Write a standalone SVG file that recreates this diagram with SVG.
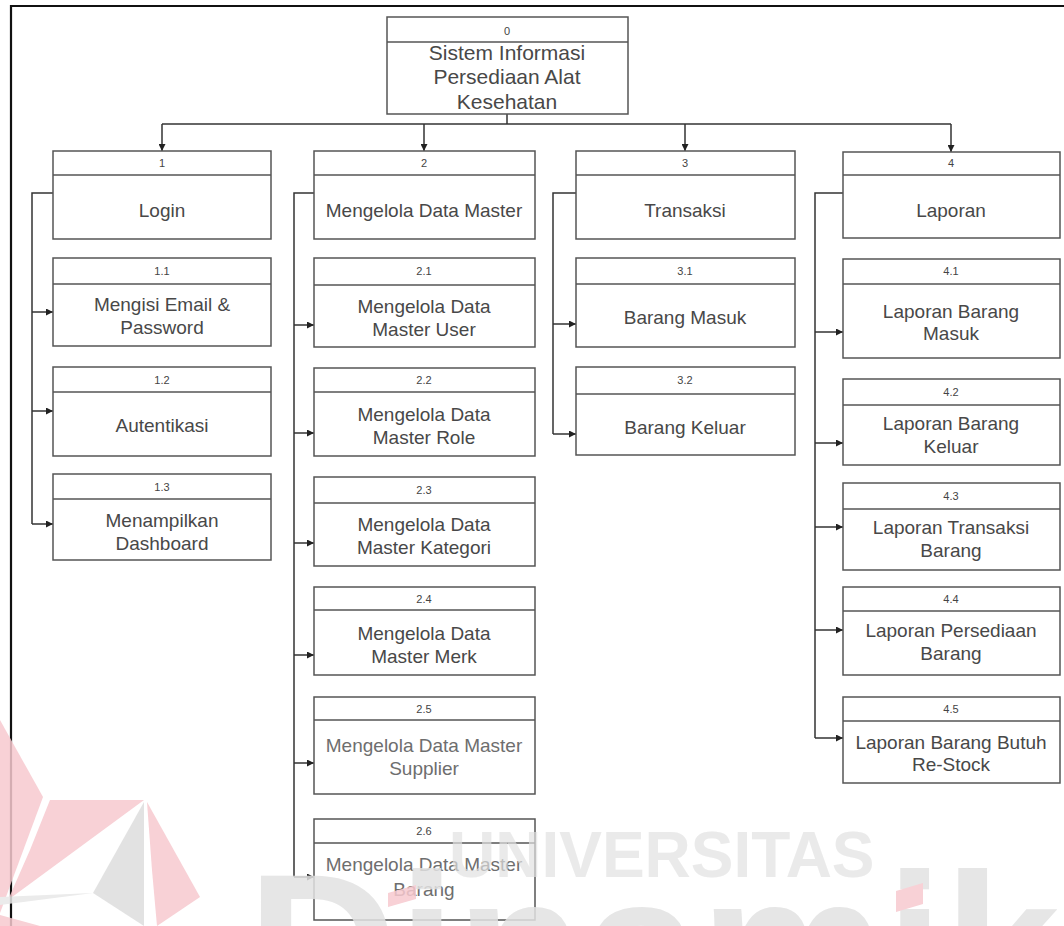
<svg xmlns="http://www.w3.org/2000/svg" width="1064" height="926" viewBox="0 0 1064 926">
  <style>
    .box { fill: #ffffff; stroke: #555555; stroke-width: 1.5; }
    .div { stroke: #555555; stroke-width: 1.5; }
    .num { font-family: "Liberation Sans", Arial, sans-serif; font-size: 11px; fill: #444444; text-anchor: middle; }
    .lbl { font-family: "Liberation Sans", Arial, sans-serif; font-size: 19px; fill: #484848; text-anchor: middle; }
    .lbl.light { fill: #6e6e6e; }
    .root { font-family: "Liberation Sans", Arial, sans-serif; font-size: 21px; fill: #484848; text-anchor: middle; }
    .wire { fill: none; stroke: #333333; stroke-width: 1.5; }
    .wm { font-family: "Liberation Sans", Arial, sans-serif; font-weight: bold; fill: #e2e2e2; }
    .pink { fill: #f7c9cf; }
  </style>
  <defs>
    <marker id="arr" viewBox="0 0 10 10" refX="10" refY="5" markerWidth="7" markerHeight="7" markerUnits="userSpaceOnUse" orient="auto">
      <path d="M0,0 L10,5 L0,10 z" fill="#222222"/>
    </marker>
  </defs>

  <rect width="1064" height="926" fill="#ffffff"/>

  <!-- page frame -->
  <path d="M11,926 V6 H1064" fill="none" stroke="#111111" stroke-width="2.2"/>

  <!-- connectors -->
  <g id="connectors">
    <path class="wire" d="M507,114 V124"/>
    <path class="wire" d="M162,124 H951"/>
    <path class="wire" d="M162,124 V151" marker-end="url(#arr)"/>
    <path class="wire" d="M424,124 V151" marker-end="url(#arr)"/>
    <path class="wire" d="M685,124 V151" marker-end="url(#arr)"/>
    <path class="wire" d="M951,124 V152" marker-end="url(#arr)"/>

    <!-- column 1 -->
    <path class="wire" d="M53,193 H32 V524"/>
    <path class="wire" d="M32,312 H53" marker-end="url(#arr)"/>
    <path class="wire" d="M32,411 H53" marker-end="url(#arr)"/>
    <path class="wire" d="M32,524 H53" marker-end="url(#arr)"/>

    <!-- column 2 -->
    <path class="wire" d="M314,193 H294 V877"/>
    <path class="wire" d="M294,325 H314" marker-end="url(#arr)"/>
    <path class="wire" d="M294,433 H314" marker-end="url(#arr)"/>
    <path class="wire" d="M294,543 H314" marker-end="url(#arr)"/>
    <path class="wire" d="M294,655 H314" marker-end="url(#arr)"/>
    <path class="wire" d="M294,763 H314" marker-end="url(#arr)"/>
    <path class="wire" d="M294,877 H314" marker-end="url(#arr)"/>

    <!-- column 3 -->
    <path class="wire" d="M576,193 H553 V434"/>
    <path class="wire" d="M553,324 H576" marker-end="url(#arr)"/>
    <path class="wire" d="M553,434 H576" marker-end="url(#arr)"/>

    <!-- column 4 -->
    <path class="wire" d="M843,193 H815 V738"/>
    <path class="wire" d="M815,332 H843" marker-end="url(#arr)"/>
    <path class="wire" d="M815,443 H843" marker-end="url(#arr)"/>
    <path class="wire" d="M815,527 H843" marker-end="url(#arr)"/>
    <path class="wire" d="M815,630 H843" marker-end="url(#arr)"/>
    <path class="wire" d="M815,738 H843" marker-end="url(#arr)"/>
  </g>

  <!-- root -->
  <g id="n0">
    <rect class="box" x="387" y="17" width="241" height="97"/>
    <line class="div" x1="387" y1="42" x2="628" y2="42"/>
    <text class="num" x="507" y="35">0</text>
    <text class="root" x="507" y="60">Sistem Informasi</text>
    <text class="root" x="507" y="84">Persediaan Alat</text>
    <text class="root" x="507" y="109">Kesehatan</text>
  </g>

  <!-- column 1 -->
  <g id="n1">
    <rect class="box" x="53" y="151" width="218" height="88"/>
    <line class="div" x1="53" y1="175" x2="271" y2="175"/>
    <text class="num" x="162" y="167">1</text>
    <text class="lbl" x="162" y="217">Login</text>
  </g>
  <g id="n1_1">
    <rect class="box" x="53" y="258" width="218" height="88"/>
    <line class="div" x1="53" y1="284" x2="271" y2="284"/>
    <text class="num" x="162" y="275">1.1</text>
    <text class="lbl" x="162" y="311">Mengisi Email &amp;</text>
    <text class="lbl" x="162" y="334">Password</text>
  </g>
  <g id="n1_2">
    <rect class="box" x="53" y="367" width="218" height="89"/>
    <line class="div" x1="53" y1="392" x2="271" y2="392"/>
    <text class="num" x="162" y="384">1.2</text>
    <text class="lbl" x="162" y="432">Autentikasi</text>
  </g>
  <g id="n1_3">
    <rect class="box" x="53" y="474" width="218" height="86"/>
    <line class="div" x1="53" y1="499" x2="271" y2="499"/>
    <text class="num" x="162" y="491">1.3</text>
    <text class="lbl" x="162" y="527">Menampilkan</text>
    <text class="lbl" x="162" y="550">Dashboard</text>
  </g>

  <!-- column 2 -->
  <g id="n2">
    <rect class="box" x="314" y="151" width="221" height="88"/>
    <line class="div" x1="314" y1="175" x2="535" y2="175"/>
    <text class="num" x="424" y="167">2</text>
    <text class="lbl" x="424" y="217">Mengelola Data Master</text>
  </g>
  <g id="n2_1">
    <rect class="box" x="314" y="258" width="221" height="89"/>
    <line class="div" x1="314" y1="285" x2="535" y2="285"/>
    <text class="num" x="424" y="275">2.1</text>
    <text class="lbl" x="424" y="313">Mengelola Data</text>
    <text class="lbl" x="424" y="336">Master User</text>
  </g>
  <g id="n2_2">
    <rect class="box" x="314" y="368" width="221" height="88"/>
    <line class="div" x1="314" y1="392" x2="535" y2="392"/>
    <text class="num" x="424" y="384">2.2</text>
    <text class="lbl" x="424" y="421">Mengelola Data</text>
    <text class="lbl" x="424" y="444">Master Role</text>
  </g>
  <g id="n2_3">
    <rect class="box" x="314" y="477" width="221" height="89"/>
    <line class="div" x1="314" y1="503" x2="535" y2="503"/>
    <text class="num" x="424" y="494">2.3</text>
    <text class="lbl" x="424" y="531">Mengelola Data</text>
    <text class="lbl" x="424" y="554">Master Kategori</text>
  </g>
  <g id="n2_4">
    <rect class="box" x="314" y="587" width="221" height="88"/>
    <line class="div" x1="314" y1="610" x2="535" y2="610"/>
    <text class="num" x="424" y="603">2.4</text>
    <text class="lbl" x="424" y="640">Mengelola Data</text>
    <text class="lbl" x="424" y="663">Master Merk</text>
  </g>
  <g id="n2_5">
    <rect class="box" x="314" y="697" width="221" height="97"/>
    <line class="div" x1="314" y1="720" x2="535" y2="720"/>
    <text class="num" x="424" y="713">2.5</text>
    <text class="lbl light" x="424" y="752">Mengelola Data Master</text>
    <text class="lbl light" x="424" y="775">Supplier</text>
  </g>
  <g id="n2_6">
    <rect class="box" x="314" y="819" width="221" height="101"/>
    <line class="div" x1="314" y1="843" x2="535" y2="843"/>
    <text class="num" x="424" y="835">2.6</text>
    <text class="lbl light" x="424" y="871">Mengelola Data Master</text>
    <text class="lbl light" x="424" y="896">Barang</text>
  </g>

  <!-- column 3 -->
  <g id="n3">
    <rect class="box" x="576" y="151" width="219" height="88"/>
    <line class="div" x1="576" y1="175" x2="795" y2="175"/>
    <text class="num" x="685" y="167">3</text>
    <text class="lbl" x="685" y="217">Transaksi</text>
  </g>
  <g id="n3_1">
    <rect class="box" x="576" y="258" width="219" height="89"/>
    <line class="div" x1="576" y1="284" x2="795" y2="284"/>
    <text class="num" x="685" y="275">3.1</text>
    <text class="lbl" x="685" y="324">Barang Masuk</text>
  </g>
  <g id="n3_2">
    <rect class="box" x="576" y="367" width="219" height="88"/>
    <line class="div" x1="576" y1="394" x2="795" y2="394"/>
    <text class="num" x="685" y="384">3.2</text>
    <text class="lbl" x="685" y="434">Barang Keluar</text>
  </g>

  <!-- column 4 -->
  <g id="n4">
    <rect class="box" x="843" y="152" width="217" height="86"/>
    <line class="div" x1="843" y1="175" x2="1060" y2="175"/>
    <text class="num" x="951" y="167">4</text>
    <text class="lbl" x="951" y="217">Laporan</text>
  </g>
  <g id="n4_1">
    <rect class="box" x="843" y="259" width="217" height="99"/>
    <line class="div" x1="843" y1="284" x2="1060" y2="284"/>
    <text class="num" x="951" y="275">4.1</text>
    <text class="lbl" x="951" y="318">Laporan Barang</text>
    <text class="lbl" x="951" y="340">Masuk</text>
  </g>
  <g id="n4_2">
    <rect class="box" x="843" y="379" width="217" height="86"/>
    <line class="div" x1="843" y1="405" x2="1060" y2="405"/>
    <text class="num" x="951" y="396">4.2</text>
    <text class="lbl" x="951" y="430">Laporan Barang</text>
    <text class="lbl" x="951" y="453">Keluar</text>
  </g>
  <g id="n4_3">
    <rect class="box" x="843" y="483" width="217" height="87"/>
    <line class="div" x1="843" y1="509" x2="1060" y2="509"/>
    <text class="num" x="951" y="500">4.3</text>
    <text class="lbl" x="951" y="534">Laporan Transaksi</text>
    <text class="lbl" x="951" y="557">Barang</text>
  </g>
  <g id="n4_4">
    <rect class="box" x="843" y="587" width="217" height="88"/>
    <line class="div" x1="843" y1="611" x2="1060" y2="611"/>
    <text class="num" x="951" y="603">4.4</text>
    <text class="lbl" x="951" y="637">Laporan Persediaan</text>
    <text class="lbl" x="951" y="660">Barang</text>
  </g>
  <g id="n4_5">
    <rect class="box" x="843" y="697" width="217" height="86"/>
    <line class="div" x1="843" y1="721" x2="1060" y2="721"/>
    <text class="num" x="951" y="713">4.5</text>
    <text class="lbl" x="951" y="749">Laporan Barang Butuh</text>
    <text class="lbl" x="951" y="771">Re-Stock</text>
  </g>

  <!-- watermark, drawn over the page at low contrast -->
  <g id="watermark" opacity="0.85">
    <polygon class="pink" points="0,720 43,797 0,913"/>
    <polygon class="pink" points="50,800 144,800 8,900 30,850"/>
    <polygon points="144,802 93,893 144,926" fill="#dedede"/>
    <polygon points="0,897 93,893 0,905" fill="#e8e8e8"/>
    <polygon class="pink" points="147,802 200,897 157,926 152,870"/>
    <polygon class="pink" points="0,915 40,926 0,926"/>
    <text class="wm" x="449" y="877" font-size="64" opacity="0.8">UNIVERSITAS</text>
    <text class="wm" x="247" y="1020" font-size="209">Dinamika</text>
    <polygon class="pink" points="388,893 416,885 416,899 388,907"/>
    <polygon class="pink" points="896,891 923,883 923,904 896,912"/>
  </g>
</svg>
